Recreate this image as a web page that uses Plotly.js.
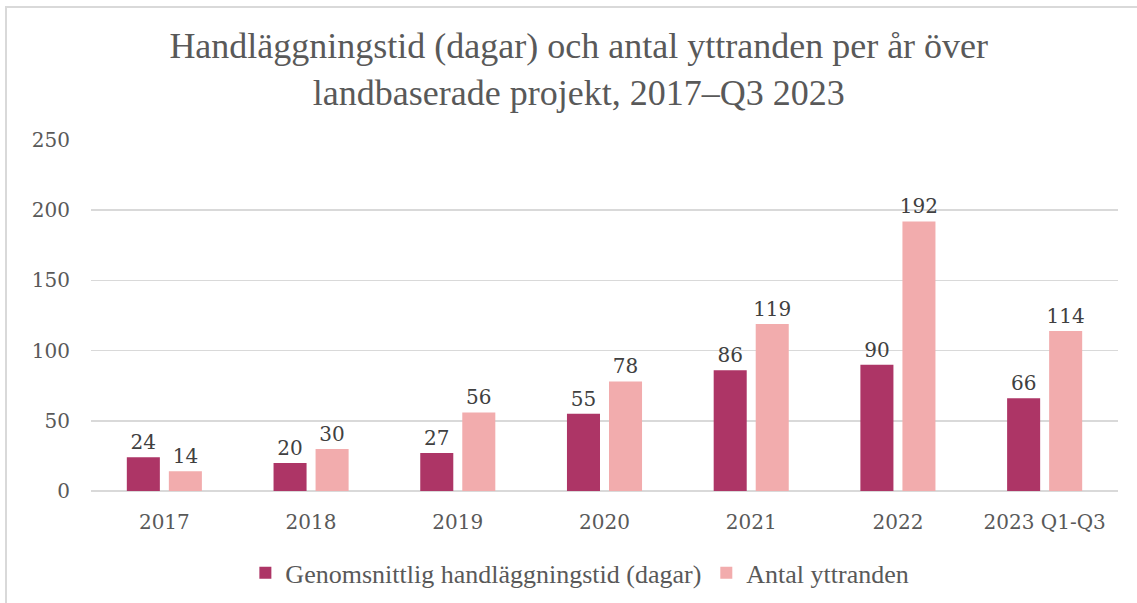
<!DOCTYPE html>
<html>
<head>
<meta charset="utf-8">
<script src="https://cdn.plot.ly/plotly-3.0.1.min.js"></script>
<style>
html,body{margin:0;padding:0;background:#fff;overflow:hidden;}
#frame{position:absolute;left:5px;top:6px;width:1300px;height:800px;border-top:2px solid #d9d9d9;border-left:2px solid #d9d9d9;}
#chart{position:absolute;left:0;top:0;width:1137px;height:603px;}
</style>
</head>
<body>
<div id="frame"></div>
<div id="chart"></div>
<script>
var categories = ["2017", "2018", "2019", "2020", "2021", "2022", "2023 Q1-Q3"];
var handlaggningstid = [24, 20, 27, 55, 86, 90, 66];
var yttranden = [14, 30, 56, 78, 119, 192, 114];
var seriesNames = ["Genomsnittlig handläggningstid (dagar)", "Antal yttranden"];
var yTicks = [0, 50, 100, 150, 200, 250];

var numFont = "DejaVu Serif, serif";
var textFont = "Liberation Serif, serif";

var traces = [
  {
    type: "bar", x: categories, y: handlaggningstid, name: seriesNames[0],
    marker: {color: "#ad3566"},
    text: handlaggningstid.map(String), textposition: "outside", constraintext: "none",
    textfont: {family: numFont, size: 20, color: "#404040"},
    cliponaxis: false, hoverinfo: "skip"
  },
  {
    type: "bar", x: categories, y: yttranden, name: seriesNames[1],
    marker: {color: "#f2acad"},
    text: yttranden.map(String), textposition: "outside", constraintext: "none",
    textfont: {family: numFont, size: 20, color: "#404040"},
    cliponaxis: false, hoverinfo: "skip"
  }
];

var layout = {
  width: 1137, height: 603,
  margin: {l: 91, r: 19, t: 140, b: 112},
  paper_bgcolor: "rgba(0,0,0,0)",
  plot_bgcolor: "rgba(0,0,0,0)",
  barmode: "group",
  bargap: 0.427,
  bargroupgap: 0.214,
  showlegend: true,
  title: {
    text: "Handläggningstid (dagar) och antal yttranden per år över<br>landbaserade projekt, 2017–Q3 2023",
    font: {family: textFont, size: 36, color: "#595959"},
    xref: "container", x: 0.509, xanchor: "center",
    yref: "container", y: 0.904, yanchor: "top"
  },
  xaxis: {
    type: "category",
    tickfont: {family: numFont, size: 20, color: "#595959"},
    showgrid: false, showline: false, ticks: "",
    ticklabelstandoff: 17
  },
  yaxis: {
    range: [0, 250], tickvals: yTicks, ticktext: yTicks.map(String),
    tickfont: {family: numFont, size: 20, color: "#595959"},
    showgrid: true, gridcolor: "#d9d9d9", gridwidth: 1.5,
    zeroline: true, zerolinecolor: "#d9d9d9", zerolinewidth: 1.5,
    showline: false, ticks: "",
    ticklabelstandoff: 20
  },
  legend: {
    orientation: "h", xref: "container", x: 0.51, xanchor: "center",
    yref: "container", y: 0.05, yanchor: "middle",
    font: {family: textFont, size: 26, color: "#595959"},
    itemwidth: 30, tracegroupgap: 0
  }
};

Plotly.newPlot("chart", traces, layout, {displayModeBar: false, staticPlot: true});
</script>
</body>
</html>
